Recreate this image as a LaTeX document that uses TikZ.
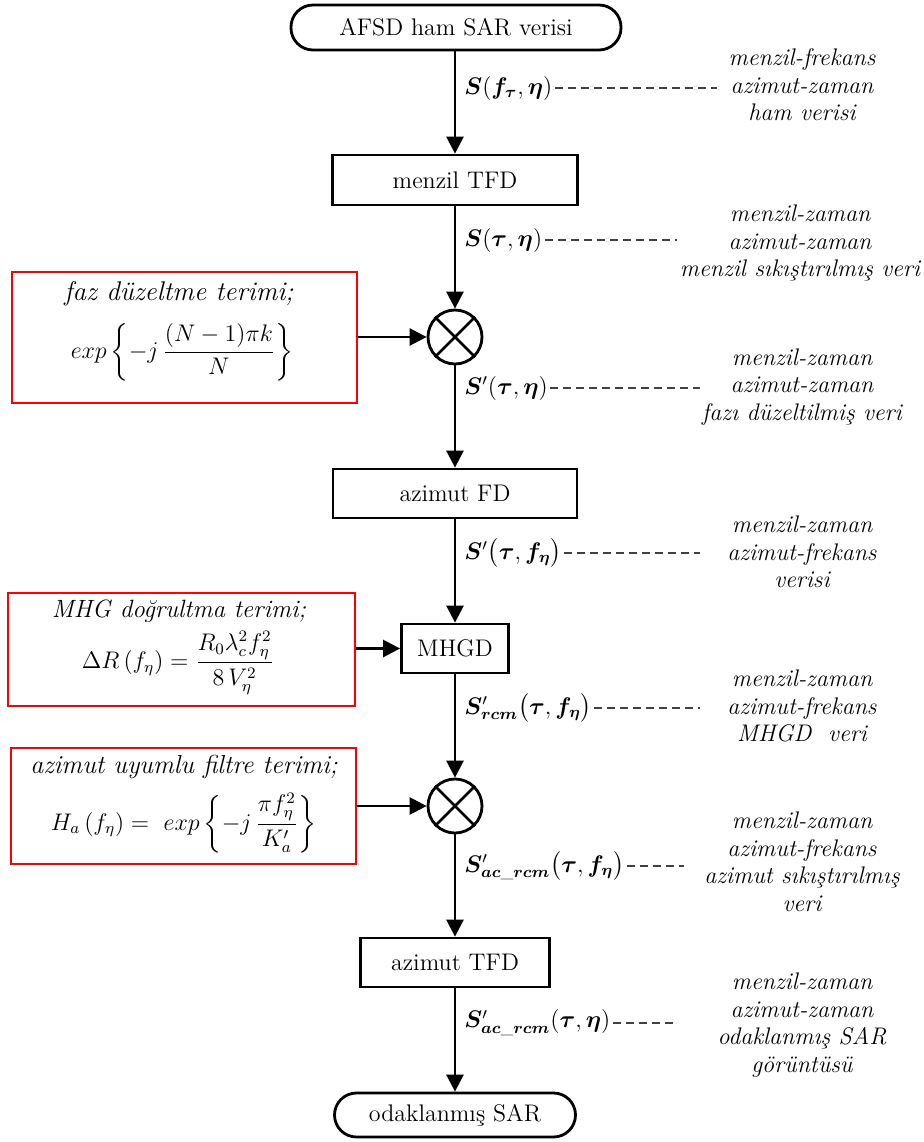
\documentclass[tikz,border=0pt,12pt]{standalone}
\usepackage{amsmath}
\usepackage{bm}
\usepackage{fontspec}
\usetikzlibrary{arrows.meta}
\tikzset{
  flow/.style={draw, line width=1.4pt, inner sep=0pt, font=\fontsize{12}{14}\selectfont},
  term/.style={flow, rounded corners=11pt},
  redbox/.style={draw=red, line width=1.4pt, inner sep=0pt},
  mult/.style={draw, circle, line width=1.4pt, minimum size=27pt, inner sep=0pt},
  arr/.style={line width=1.3pt, -{Triangle[length=8.5pt,width=8.5pt]}},
  sig/.style={anchor=west, inner sep=1pt, font=\fontsize{12}{14}\selectfont},
  dsh/.style={draw=black!75, line width=0.6pt, dash pattern=on 4pt off 2.5pt},
  note/.style={align=center, inner sep=0pt, font=\fontsize{12}{13.75}\selectfont\itshape},
  ttl/.style={inner sep=0pt, font=\fontsize{12}{14}\selectfont\itshape},
  eqn/.style={inner sep=0pt, font=\fontsize{12}{14}\selectfont},
}
\begin{document}
\begin{tikzpicture}[x=0.5pt,y=-0.5pt]
\useasboundingbox (0,0) rectangle (924,1142);

% main chain
\node[term, minimum width=165pt, minimum height=22.5pt] (top) at (456,27.5) {AFSD ham SAR verisi};
\node[flow, minimum width=122.5pt, minimum height=25pt] (tfd1) at (455,180) {menzil TFD};
\node[mult] (mul1) at (455,337) {};
\node[flow, minimum width=122pt, minimum height=24.5pt] (fd) at (455,493.5) {azimut FD};
\node[flow, minimum width=53.5pt, minimum height=24.5pt] (mhgd) at (455,648.5) {MHGD};
\node[mult] (mul2) at (455,806) {};
\node[flow, minimum width=94.5pt, minimum height=24.5pt] (tfd2) at (455,962.5) {azimut TFD};
\node[term, minimum width=120.5pt, minimum height=22pt] (out) at (455,1115) {odaklanmış SAR};

\draw[line width=1.4pt] (mul1.north west) -- (mul1.south east) (mul1.north east) -- (mul1.south west);
\draw[line width=1.4pt] (mul2.north west) -- (mul2.south east) (mul2.north east) -- (mul2.south west);

\draw[arr] (top.south -| tfd1.north) -- (tfd1.north);
\draw[arr] (tfd1.south) -- (mul1.north);
\draw[arr] (mul1.south) -- (fd.north);
\draw[arr] (fd.south) -- (mhgd.north);
\draw[arr] (mhgd.south) -- (mul2.north);
\draw[arr] (mul2.south) -- (tfd2.north);
\draw[arr] (tfd2.south) -- (out.north);

% red term boxes
\node[redbox, minimum width=172.5pt, minimum height=65.5pt] (r1) at (184.5,337.5) {};
\node[ttl, font=\fontsize{13.5}{15}\selectfont\itshape\addfontfeatures{LetterSpace=4}] (r1t) at (179,294) {faz düzeltme terimi;};
\node[eqn] (r1e) at (182,352) {$\displaystyle exp\left\{-j\,\frac{(N-1)\pi k}{N}\right\}$};

\node[redbox, minimum width=173.5pt, minimum height=56.5pt] (r2) at (181.5,649.5) {};
\node[ttl, font=\fontsize{12.5}{15}\selectfont\itshape\addfontfeatures{LetterSpace=13}] (r2t) at (179,611) {MHG doğrultma terimi;};
\node[eqn] (r2e) at (178,663) {$\displaystyle \Delta R\left(f_\eta\right)=\frac{R_0\lambda_c^2 f_\eta^2}{8\,V_\eta^2}$};

\node[redbox, minimum width=172.5pt, minimum height=58pt] (r3) at (183.5,806) {};
\node[ttl, font=\fontsize{13}{15}\selectfont\itshape] (r3t) at (184,767) {azimut uyumlu filtre terimi;};
\node[eqn] (r3e) at (183.5,823) {$\displaystyle H_a\left(f_\eta\right)=\ exp\left\{-j\,\frac{\pi f_\eta^2}{K_a'}\right\}$};

\draw[arr] (r1.east |- mul1.west) -- (mul1.west);
\draw[arr] (r2.east |- mhgd.west) -- (mhgd.west);
\draw[arr] (r3.east |- mul2.west) -- (mul2.west);

% signal labels
\node[sig] (l1) at (462,88) {$\bm{S}(\bm{f}_{\bm{\tau}},\bm{\eta})$};
\node[sig] (l2) at (462,240) {$\bm{S}(\bm{\tau},\bm{\eta})$};
\node[sig] (l3) at (462,388) {$\bm{S}'(\bm{\tau},\bm{\eta})$};
\node[sig] (l4) at (462,553) {$\bm{S}'\bigl(\bm{\tau},\bm{f}_{\bm{\eta}}\bigr)$};
\node[sig] (l5) at (462,708) {$\bm{S}'_{\bm{rcm}}\bigl(\bm{\tau},\bm{f}_{\bm{\eta}}\bigr)$};
\node[sig] (l6) at (462,866) {$\bm{S}'_{\bm{ac}\_\bm{rcm}}\bigl(\bm{\tau},\bm{f}_{\bm{\eta}}\bigr)$};
\node[sig] (l7) at (462,1023) {$\bm{S}'_{\bm{ac}\_\bm{rcm}}(\bm{\tau},\bm{\eta})$};

\coordinate (e1) at (717,88);
\coordinate (e2) at (677,240);
\coordinate (e3) at (700,388);
\coordinate (e4) at (700,553);
\coordinate (e5) at (700,708);
\coordinate (e6) at (684,866);
\coordinate (e7) at (673,1023);
\draw[dsh] (l1.east) -- (e1);
\draw[dsh] (l2.east) -- (e2);
\draw[dsh] (l3.east) -- (e3);
\draw[dsh] (l4.east) -- (e4);
\draw[dsh] (l5.east) -- (e5);
\draw[dsh] (l6.east) -- (e6);
\draw[dsh] (l7.east) -- (e7);

% descriptions
\node[note] (d1) at (802,85) {menzil-frekans\\azimut-zaman\\ham verisi};
\node[note] (d2) at (800,243) {menzil-zaman\\azimut-zaman\\menzil sıkıştırılmış veri};
\node[note] (d3) at (802,387) {menzil-zaman\\azimut-zaman\\fazı düzeltilmiş veri};
\node[note] (d4) at (802,552) {menzil-zaman\\azimut-frekans\\verisi};
\node[note] (d5) at (802,706) {menzil-zaman\\azimut-frekans\\MHGD\ \ veri};
\node[note] (d6) at (802,862) {menzil-zaman\\azimut-frekans\\azimut sıkıştırılmış\\veri};
\node[note] (d7) at (802,1025) {menzil-zaman\\azimut-zaman\\odaklanmış SAR\\görüntüsü};
\end{tikzpicture}
\end{document}
